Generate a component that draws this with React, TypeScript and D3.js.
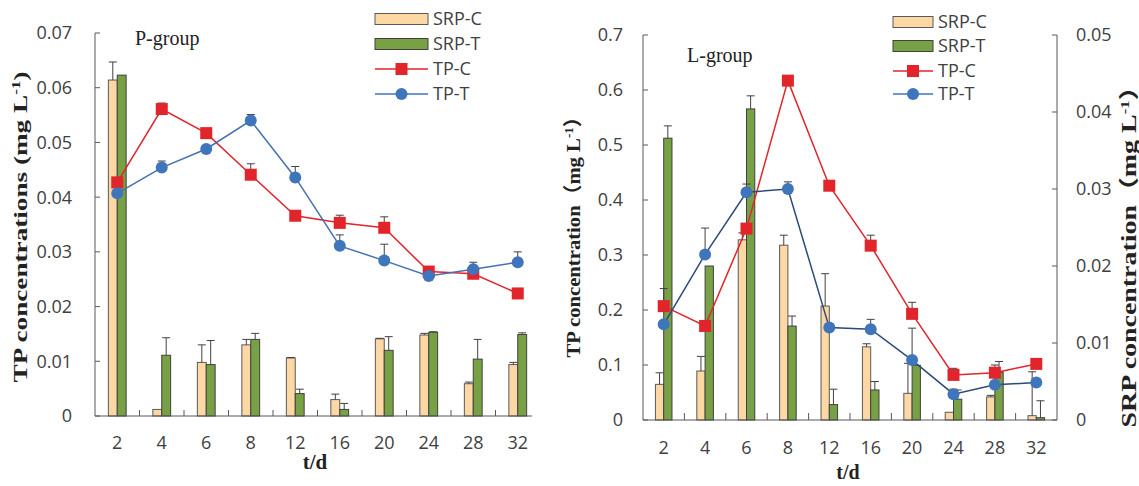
import React from "react";
import * as d3 from "d3";

// ---------- data ----------
const days = ["2", "4", "6", "8", "12", "16", "20", "24", "28", "32"];

// P-group (single axis, mg/L)
const pSrpC = [0.0614, 0.0012, 0.0098, 0.013, 0.0106, 0.003, 0.0141, 0.0148, 0.0059, 0.0094];
const pSrpCErr = [0.0033, 0, 0.0032, 0.001, 0.0001, 0.001, 0.0001, 0.0003, 0.0003, 0.0004];
const pSrpT = [0.0623, 0.0111, 0.0094, 0.014, 0.0041, 0.0012, 0.012, 0.0153, 0.0104, 0.0149];
const pSrpTErr = [0, 0.0032, 0.0044, 0.0011, 0.0008, 0.0011, 0.0025, 0.0001, 0.0036, 0.0003];
const pTpC = [0.0427, 0.0561, 0.0517, 0.0441, 0.0366, 0.0353, 0.0344, 0.0264, 0.026, 0.0224];
const pTpCErr = [0, 0.0011, 0, 0.002, 0, 0.0014, 0.002, 0.0007, 0.0008, 0];
const pTpT = [0.0407, 0.0454, 0.0488, 0.054, 0.0436, 0.0311, 0.0284, 0.0256, 0.0268, 0.0281];
const pTpTErr = [0, 0.0012, 0, 0.0011, 0.002, 0.002, 0.003, 0, 0.0013, 0.0019];
const pTicks = [0, 0.01, 0.02, 0.03, 0.04, 0.05, 0.06, 0.07];

// L-group (TP on left axis, SRP on right axis)
const lSrpC = [0.00463, 0.00636, 0.0234, 0.0227, 0.0148, 0.0095, 0.00346, 0.001, 0.003, 0.00056];
const lSrpCErr = [0.0015, 0.0019, 0.0009, 0.0013, 0.0042, 0.0004, 0.0039, 0, 0.0002, 0.0057];
const lSrpT = [0.0366, 0.02, 0.0404, 0.0122, 0.002, 0.0039, 0.0071, 0.0027, 0.0062, 0.0003];
const lSrpTErr = [0.0016, 0, 0.0017, 0.0013, 0.002, 0.0011, 0, 0.0012, 0.0014, 0.0022];
const lTpC = [0.207, 0.171, 0.348, 0.617, 0.426, 0.317, 0.193, 0.082, 0.086, 0.102];
const lTpCErr = [0.032, 0, 0, 0, 0, 0.019, 0.021, 0.012, 0.014, 0];
const lTpT = [0.174, 0.301, 0.414, 0.42, 0.168, 0.165, 0.109, 0.047, 0.064, 0.068];
const lTpTErr = [0, 0.048, 0.015, 0.013, 0, 0.018, 0.058, 0.009, 0, 0];
const lTpTicks = [0, 0.1, 0.2, 0.3, 0.4, 0.5, 0.6, 0.7];
const lSrpTicks = [0, 0.01, 0.02, 0.03, 0.04, 0.05];

const legendLabels = ["SRP-C", "SRP-T", "TP-C", "TP-T"];

// ---------- style ----------
const C_SRPC = "#FDD8A4";
const C_SRPT = "#77A144";
const C_RED = "#E2242B";
const C_BLUE = "#3F75BB";
const AX = "#595959";
const TXT = "#404040";
const SANS = "'Open Sans', 'Noto Sans', sans-serif";
const SERIF = "'Liberation Serif', 'Times New Roman', serif";
const CJK_SERIF = "'Liberation Serif', 'Noto Sans CJK SC', serif";

function Err({ x, y0, y1 }: { x: number; y0: number; y1: number }) {
  if (Math.abs(y0 - y1) < 0.5) return null;
  return (
    <g stroke="#404040" strokeWidth={1}>
      <line x1={x} x2={x} y1={y0} y2={y1} />
      <line x1={x - 4} x2={x + 4} y1={y1} y2={y1} />
    </g>
  );
}

function Legend({ x0, x1, ys, tx }: { x0: number; x1: number; ys: number[]; tx: number }) {
  const mid = (x0 + x1) / 2;
  return (
    <g>
      <rect x={x0} y={ys[0] - 5.5} width={x1 - x0} height={11} fill={C_SRPC} stroke="#595959" />
      <rect x={x0} y={ys[1] - 5.5} width={x1 - x0} height={11} fill={C_SRPT} stroke="#404040" />
      <line x1={x0} x2={x1} y1={ys[2]} y2={ys[2]} stroke={C_RED} strokeWidth={1.5} />
      <rect x={mid - 6} y={ys[2] - 6} width={12} height={12} fill={C_RED} />
      <line x1={x0} x2={x1} y1={ys[3]} y2={ys[3]} stroke={C_BLUE} strokeWidth={1.5} />
      <circle cx={mid} cy={ys[3]} r={6} fill={C_BLUE} />
      {legendLabels.map((l, i) => (
        <text key={l} x={tx} y={ys[i]} dy="0.36em" fontFamily={SANS} fontSize={18} fill={TXT}>
          {l}
        </text>
      ))}
    </g>
  );
}

export default function App() {
  // ---------- P-group scales ----------
  const xP = d3.scaleBand<string>().domain(days).range([95, 540]);
  const yP = d3.scaleLinear().domain([0, 0.07]).range([416, 33]);
  const bwP = xP.bandwidth() * 0.2;
  const cP = (d: string) => (xP(d) as number) + xP.bandwidth() / 2;

  // ---------- L-group scales ----------
  const xL = d3.scaleBand<string>().domain(days).range([643, 1057]);
  const yL = d3.scaleLinear().domain([0, 0.7]).range([420, 35]);
  const yR = d3.scaleLinear().domain([0, 0.05]).range([420, 35]);
  const bwL = xL.bandwidth() * 0.2;
  const cL = (d: string) => (xL(d) as number) + xL.bandwidth() / 2;

  const lineP = (vals: number[]) =>
    d3.line<number>().x((_, i) => cP(days[i])).y((v) => yP(v))(vals) as string;
  const lineL = (vals: number[]) =>
    d3.line<number>().x((_, i) => cL(days[i])).y((v) => yL(v))(vals) as string;

  const fmt2 = (v: number) => (v === 0 ? "0" : d3.format(".2f")(v));
  const fmt1 = (v: number) => (v === 0 ? "0" : d3.format(".1f")(v));

  return (
    <svg
      width={1139}
      height={486}
      style={{ position: "absolute", left: 0, top: 0, background: "#fff" }}
    >
      <rect width={1139} height={486} fill="#fff" />

      {/* ================= P-group ================= */}
      <g>
        {days.map((d, i) => (
          <g key={"pb" + d}>
            <rect x={cP(d) - bwP} y={yP(pSrpC[i])} width={bwP} height={yP(0) - yP(pSrpC[i])} fill={C_SRPC} stroke="#595959" strokeWidth={1} />
            <rect x={cP(d)} y={yP(pSrpT[i])} width={bwP} height={yP(0) - yP(pSrpT[i])} fill={C_SRPT} stroke="#404040" strokeWidth={1} />
            <Err x={cP(d) - bwP / 2} y0={yP(pSrpC[i])} y1={yP(pSrpC[i] + pSrpCErr[i])} />
            <Err x={cP(d) + bwP / 2} y0={yP(pSrpT[i])} y1={yP(pSrpT[i] + pSrpTErr[i])} />
          </g>
        ))}
        <line x1={95} x2={95} y1={33} y2={416} stroke={AX} />
        <line x1={95} x2={532} y1={416} y2={416} stroke={AX} />
        {pTicks.map((t) => (
          <g key={"pt" + t}>
            <line x1={95} x2={100} y1={yP(t)} y2={yP(t)} stroke={AX} />
            <text x={72} y={yP(t)} dy="0.36em" textAnchor="end" fontFamily={SANS} fontSize={18} fill={TXT}>
              {fmt2(t)}
            </text>
          </g>
        ))}
        {days.slice(1).map((d) => (
          <line key={"pxt" + d} x1={xP(d) as number} x2={xP(d) as number} y1={416} y2={410} stroke={AX} />
        ))}
        {days.map((d) => (
          <text key={"pxl" + d} x={cP(d)} y={449} textAnchor="middle" fontFamily={SANS} fontSize={18} fill={TXT}>
            {d}
          </text>
        ))}
        <path d={lineP(pTpC)} fill="none" stroke={C_RED} strokeWidth={1.5} />
        <path d={lineP(pTpT)} fill="none" stroke="#4471B0" strokeWidth={1.5} />
        {days.map((d, i) => (
          <g key={"pe" + d}>
            <Err x={cP(d)} y0={yP(pTpC[i])} y1={yP(pTpC[i] + pTpCErr[i])} />
            <Err x={cP(d)} y0={yP(pTpT[i])} y1={yP(pTpT[i] + pTpTErr[i])} />
          </g>
        ))}
        {days.map((d, i) => (
          <rect key={"pm" + d} x={cP(d) - 6} y={yP(pTpC[i]) - 6} width={12} height={12} fill={C_RED} />
        ))}
        {days.map((d, i) => (
          <circle key={"pc" + d} cx={cP(d)} cy={yP(pTpT[i])} r={6} fill={C_BLUE} />
        ))}
        <text x={135} y={45} fontFamily={SERIF} fontSize={20} fill="#222">P-group</text>
        <Legend x0={375} x1={428} ys={[19, 44, 69, 94]} tx={433} />
        <text
          transform="translate(27,227) rotate(-90)"
          textAnchor="middle"
          fontFamily={SERIF}
          fontWeight="bold"
          fontSize={19}
          fill="#222"
          textLength={311}
          lengthAdjust="spacingAndGlyphs"
        >
          TP concentrations (mg L<tspan dy={-7} fontSize={12}>-1</tspan><tspan dy={7}>)</tspan>
        </text>
        <text x={315} y={469} textAnchor="middle" fontFamily={SERIF} fontWeight="bold" fontSize={21} fill="#222">
          t/d
        </text>
      </g>

      {/* ================= L-group ================= */}
      <g>
        {days.map((d, i) => (
          <g key={"lb" + d}>
            <rect x={cL(d) - bwL} y={yR(lSrpC[i])} width={bwL} height={yR(0) - yR(lSrpC[i])} fill={C_SRPC} stroke="#595959" strokeWidth={1} />
            <rect x={cL(d)} y={yR(lSrpT[i])} width={bwL} height={yR(0) - yR(lSrpT[i])} fill={C_SRPT} stroke="#404040" strokeWidth={1} />
            <Err x={cL(d) - bwL / 2} y0={yR(lSrpC[i])} y1={yR(lSrpC[i] + lSrpCErr[i])} />
            <Err x={cL(d) + bwL / 2} y0={yR(lSrpT[i])} y1={yR(lSrpT[i] + lSrpTErr[i])} />
          </g>
        ))}
        <line x1={643} x2={643} y1={35} y2={420} stroke={AX} />
        <line x1={1057} x2={1057} y1={35} y2={420} stroke={AX} />
        <line x1={643} x2={1057} y1={420} y2={420} stroke={AX} />
        {lTpTicks.map((t) => (
          <g key={"lt" + t}>
            <line x1={643} x2={648} y1={yL(t)} y2={yL(t)} stroke={AX} />
            <text x={623} y={yL(t)} dy="0.36em" textAnchor="end" fontFamily={SANS} fontSize={18} fill={TXT}>
              {fmt1(t)}
            </text>
          </g>
        ))}
        {lSrpTicks.map((t) => (
          <g key={"rt" + t}>
            <line x1={1052} x2={1057} y1={yR(t)} y2={yR(t)} stroke={AX} />
            <text x={1076} y={yR(t)} dy="0.36em" textAnchor="start" fontFamily={SANS} fontSize={18} fill={TXT}>
              {fmt2(t)}
            </text>
          </g>
        ))}
        {days.slice(1).map((d) => (
          <line key={"lxt" + d} x1={xL(d) as number} x2={xL(d) as number} y1={420} y2={413} stroke={AX} />
        ))}
        {days.map((d) => (
          <text key={"lxl" + d} x={cL(d)} y={454} textAnchor="middle" fontFamily={SANS} fontSize={18} fill={TXT}>
            {d}
          </text>
        ))}
        <path d={lineL(lTpC)} fill="none" stroke={C_RED} strokeWidth={1.5} />
        <path d={lineL(lTpT)} fill="none" stroke="#2B4A78" strokeWidth={1.5} />
        {days.map((d, i) => (
          <g key={"le" + d}>
            <Err x={cL(d)} y0={yL(lTpC[i])} y1={yL(lTpC[i] + lTpCErr[i])} />
            <Err x={cL(d)} y0={yL(lTpT[i])} y1={yL(lTpT[i] + lTpTErr[i])} />
          </g>
        ))}
        {days.map((d, i) => (
          <rect key={"lm" + d} x={cL(d) - 6} y={yL(lTpC[i]) - 6} width={12} height={12} fill={C_RED} />
        ))}
        {days.map((d, i) => (
          <circle key={"lc" + d} cx={cL(d)} cy={yL(lTpT[i])} r={6} fill={C_BLUE} />
        ))}
        <text x={687} y={62} fontFamily={SERIF} fontSize={20} fill="#222">L-group</text>
        <Legend x0={893} x1={933} ys={[22, 46, 71, 94]} tx={938} />
        <text
          transform="translate(580,232) rotate(-90)"
          textAnchor="middle"
          fontFamily={CJK_SERIF}
          fontWeight="bold"
          fontSize={19}
          fill="#222"
          textLength={251}
          lengthAdjust="spacingAndGlyphs"
        >
          TP concentration（mg L<tspan dy={-7} fontSize={12}>-1</tspan><tspan dy={7}>）</tspan>
        </text>
        <text
          transform="translate(1136,250) rotate(-90)"
          textAnchor="middle"
          fontFamily={CJK_SERIF}
          fontWeight="bold"
          fontSize={20}
          fill="#222"
          textLength={355}
          lengthAdjust="spacingAndGlyphs"
        >
          SRP concentration（mg L<tspan dy={-7} fontSize={12}>-1</tspan><tspan dy={7}>）</tspan>
        </text>
        <text x={848} y={479} textAnchor="middle" fontFamily={SERIF} fontWeight="bold" fontSize={20} fill="#222">
          t/d
        </text>
      </g>
    </svg>
  );
}
